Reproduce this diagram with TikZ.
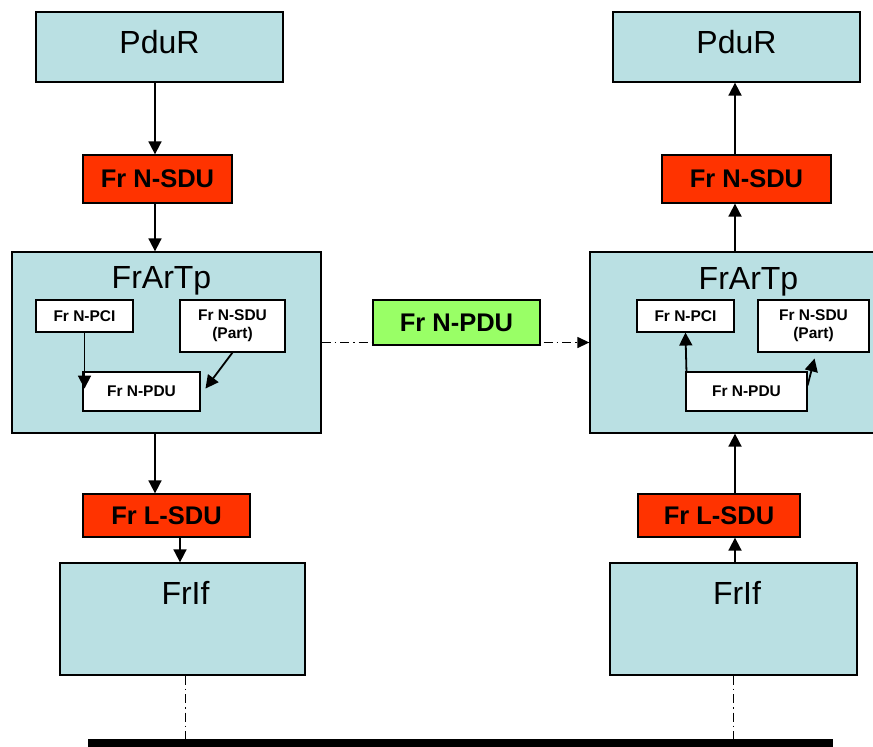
\documentclass[tikz,border=0pt]{standalone}
\usepackage{fontspec}
\setmainfont{Liberation Sans}
\usetikzlibrary{arrows.meta}
\definecolor{layerblue}{HTML}{BAE0E3}
\definecolor{sdured}{HTML}{FF3300}
\definecolor{pdugreen}{HTML}{99FF66}
\begin{document}
\begin{tikzpicture}[x=1pt, y=-1pt,
		layer/.style={draw, line width=1.3pt, fill=layerblue, inner sep=0pt},
		title/.style={anchor=base, font=\fontsize{32}{38}\selectfont},
		frame/.style={draw, line width=1.3pt, inner sep=0pt, font=\bfseries\fontsize{25.5}{30}\selectfont},
		part/.style={draw, line width=1.1pt, fill=white, inner sep=0pt, align=center, font=\bfseries\fontsize{15.5}{18}\selectfont},
		arr/.style={line width=1.8pt, -{Triangle[length=13pt, width=13pt]}},
		dashdot/.style={line width=1pt, dash pattern=on 9pt off 4pt on 1.5pt off 4pt}]
			\useasboundingbox (0, 0) rectangle (873, 747);
			\def \tpw{309};
			\def \tph{181};
			% left side
			\node[layer, minimum width=247, minimum height=70] (lpdur) at (159.5, 47) {};
			\node[title] (lpdurT) at (159.5, 53) {PduR};
			\node[frame, fill=sdured, minimum width=149, minimum height=48] (lnsdu) at (157.5, 179) {Fr N-SDU};
			\node[layer, minimum width=\tpw, minimum height=\tph] (ltp) at (166.5, 342.5) {};
			\node[title] (ltpT) at (161.5, 288) {FrArTp};
			\node[part, minimum width=97, minimum height=32] (lpci) at (84.5, 316) {Fr N-PCI};
			\node[part, minimum width=105, minimum height=52] (lpart) at (232.5, 326) {Fr N-SDU\\(Part)};
			\node[part, minimum width=117, minimum height=39] (lpdu) at (141.5, 391.5) {Fr N-PDU};
			\node[frame, fill=sdured, minimum width=167, minimum height=43] (llsdu) at (166.5, 515.5) {Fr L-SDU};
			\node[layer, minimum width=245, minimum height=112] (lfrif) at (182.5, 619) {};
			\node[title] (lfrifT) at (185.5, 604) {FrIf};
			% right side
			\node[layer, minimum width=247, minimum height=70] (rpdur) at (736.5, 47) {};
			\node[title] (rpdurT) at (736.5, 53) {PduR};
			\node[frame, fill=sdured, minimum width=169, minimum height=48] (rnsdu) at (746.5, 179) {Fr N-SDU};
			\node[layer, minimum width=290, minimum height=\tph] (rtp) at (735, 342.5) {};
			\node[title] (rtpT) at (748.5, 289) {FrArTp};
			\node[part, minimum width=97, minimum height=32] (rpci) at (685.5, 316) {Fr N-PCI};
			\node[part, minimum width=111, minimum height=52] (rpart) at (813.5, 326) {Fr N-SDU\\(Part)};
			\node[part, minimum width=121, minimum height=39] (rpdu) at (746.5, 391.5) {Fr N-PDU};
			\node[frame, fill=sdured, minimum width=162, minimum height=43] (rlsdu) at (719, 515.5) {Fr L-SDU};
			\node[layer, minimum width=247, minimum height=112] (rfrif) at (733.5, 619) {};
			\node[title] (rfrifT) at (737, 604) {FrIf};
			% bus
			\node[fill=black, inner sep=0pt, minimum width=745, minimum height=8] (bus) at (460.5, 743) {};
			\coordinate (lax) at (155, 0);
			\coordinate (lbx) at (180, 0);
			\coordinate (rax) at (735, 0);
			% down the left stack
			\draw[arr] (lpdur.south -| lax) -- (lnsdu.north -| lax);
			\draw[arr] (lnsdu.south -| lax) -- (ltp.north -| lax);
			\draw[arr] (ltp.south -| lax) -- (llsdu.north -| lax);
			\draw[arr] (llsdu.south -| lbx) -- (lfrif.north -| lbx);
			\draw[arr] (lpci.south) -- ++(0, 56);
			\draw[arr] (lpart.south) -- ++(-27, 36);
			% up the right stack
			\draw[arr] (rnsdu.north -| rax) -- (rpdur.south -| rax);
			\draw[arr] (rtp.north -| rax) -- (rnsdu.south -| rax);
			\draw[arr] (rlsdu.north -| rax) -- (rtp.south -| rax);
			\draw[arr] (rfrif.north -| rax) -- (rlsdu.south -| rax);
			\draw[arr] (rpdu.north west) ++(1, 0) -- (rpci.south -| rpdu.north west);
			\draw[arr] (rpdu.east) ++(0, -6) -- ++(7, -27);
			% across and down to the bus
			\draw[dashdot, line width=1.3pt, -{Triangle[length=12pt, width=11pt]}] (ltp.east) -- (rtp.west);
			\node[frame, fill=pdugreen, minimum width=167, minimum height=45] (npdu) at (456.5, 322.5) {Fr N-PDU};
			\draw[dashdot] (lfrif.south -| 185, 0) -- (bus.north -| 185, 0);
			\draw[dashdot] (rfrif.south) -- (bus.north -| rfrif.south);
		\end{tikzpicture}
\end{document}
